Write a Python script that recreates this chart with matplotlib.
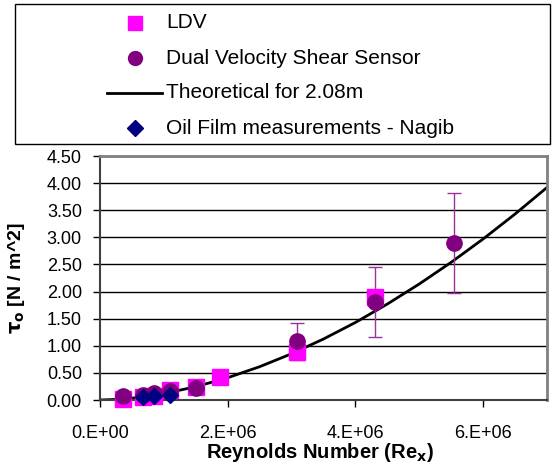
import matplotlib
matplotlib.use("Agg")
import matplotlib.pyplot as plt
from matplotlib.lines import Line2D
from matplotlib.patches import Rectangle

plt.rcParams['font.family'] = ['Liberation Sans', 'DejaVu Sans']

# LDV
ldv_x = [0.36e6, 0.68e6, 0.85e6, 1.1e6, 1.5e6, 1.88e6, 3.08e6, 4.3e6]
ldv_y = [0.01, 0.05, 0.08, 0.19, 0.24, 0.43, 0.88, 1.90]

# Dual Velocity Shear Sensor
dvss_x = [0.36e6, 0.68e6, 0.85e6, 1.1e6, 1.5e6, 3.08e6, 4.3e6, 5.54e6]
dvss_y = [0.07, 0.09, 0.12, 0.17, 0.22, 1.08, 1.81, 2.89]
dvss_err = [0.0, 0.0, 0.0, 0.0, 0.0, 0.34, 0.64, 0.92]

# Oil film measurements - Nagib
oil_x = [0.68e6, 0.85e6, 1.1e6]
oil_y = [0.06, 0.07, 0.10]

# Theoretical for 2.08m
theo_x = [0, 0.25e6, 0.5e6, 0.75e6, 1.0e6, 1.5e6, 2.0e6, 2.5e6, 3.0e6, 3.5e6,
          4.0e6, 4.5e6, 5.0e6, 5.5e6, 6.0e6, 6.5e6, 7.0e6, 7.3e6]
theo_y = [0, 0.010, 0.034, 0.070, 0.118, 0.245, 0.411, 0.614, 0.853, 1.125,
          1.43, 1.77, 2.14, 2.54, 2.97, 3.43, 3.92, 4.23]

xticks = [0, 2e6, 4e6, 6e6]
xtick_labels = ['0.E+00', '2.E+06', '4.E+06', '6.E+06']
yticks = [0, 0.5, 1.0, 1.5, 2.0, 2.5, 3.0, 3.5, 4.0, 4.5]
ytick_labels = ['0.00', '0.50', '1.00', '1.50', '2.00', '2.50', '3.00', '3.50', '4.00', '4.50']

legend_labels = ['LDV', 'Dual Velocity Shear Sensor', 'Theoretical for 2.08m',
                 'Oil Film measurements - Nagib']

W, H = 552, 465
fig = plt.figure(figsize=(W / 100, H / 100), dpi=100)
ax = fig.add_axes([100 / W, 1 - 400 / H, 447 / W, 244 / H])


def fx(px):
    return px / W


def fy(py):
    return 1 - py / H


ax.set_xlim(0, 7e6)
ax.set_ylim(0, 4.5)

for yv in yticks[1:]:
    ax.axhline(yv, color='black', lw=1.0, zorder=1)

ax.plot(theo_x, theo_y, color='black', lw=2.0, zorder=2, clip_on=True)
ax.errorbar(dvss_x, dvss_y, yerr=dvss_err, fmt='none', ecolor='#993399',
            elinewidth=1.0, capsize=5, capthick=1.0, zorder=3)
ax.plot(ldv_x, ldv_y, 's', color='#FF00FF', ms=11, mec='#FF00FF', zorder=4, clip_on=False)
ax.plot(dvss_x, dvss_y, 'o', color='#800080', ms=11, mec='#800080', zorder=5, clip_on=False)
ax.plot(oil_x, oil_y, 'D', color='#000080', ms=8.5, mec='#000080', zorder=6, clip_on=False)

ax.set_xticks(xticks)
ax.set_xticklabels(xtick_labels, fontsize=13)
ax.set_yticks(yticks)
ax.set_yticklabels(ytick_labels, fontsize=13)
ax.tick_params(axis='both', direction='out', length=5, width=1, color='black')
ax.tick_params(axis='y', pad=8)
ax.tick_params(axis='x', pad=13)

for side in ['top', 'right']:
    ax.spines[side].set_color('#808080')
    ax.spines[side].set_linewidth(2.0)
ax.spines['left'].set_color('#404040')
ax.spines['left'].set_linewidth(1.5)
ax.spines['bottom'].set_color('#404040')
ax.spines['bottom'].set_linewidth(1.5)

fig.text(fx(320), fy(458), r'Reynolds Number (Re$_\mathbf{x}$)', fontsize=14.5,
         fontweight='bold', ha='center', va='baseline')
fig.text(fx(17), fy(278), r'$\mathbf{\tau_o}$ [N / m^2]', rotation=90, fontsize=14,
         fontweight='bold', ha='center', va='center')

# Legend box drawn in figure pixel coordinates
fig.add_artist(Rectangle((fx(15), fy(144)), fx(550) - fx(15), fy(4) - fy(144),
                         transform=fig.transFigure, facecolor='white',
                         edgecolor='black', lw=1.0, zorder=10))
rows = [23, 58, 93, 128]
styles = [dict(ls='none', marker='s', color='#FF00FF', ms=10),
          dict(ls='none', marker='o', color='#800080', ms=10),
          dict(ls='-', color='black', lw=2),
          dict(ls='none', marker='D', color='#000080', ms=8)]
for ry, st, lab in zip(rows, styles, legend_labels):
    if st.get('ls') == '-':
        fig.add_artist(Line2D([fx(107), fx(162)], [fy(ry), fy(ry)],
                              transform=fig.transFigure, zorder=11, **st))
    else:
        fig.add_artist(Line2D([fx(135)], [fy(ry)], transform=fig.transFigure,
                              zorder=11, **st))
    fig.text(fx(166), fy(ry), lab, fontsize=15, ha='left', va='center', zorder=12)

fig.savefig('out.png', dpi=100)
